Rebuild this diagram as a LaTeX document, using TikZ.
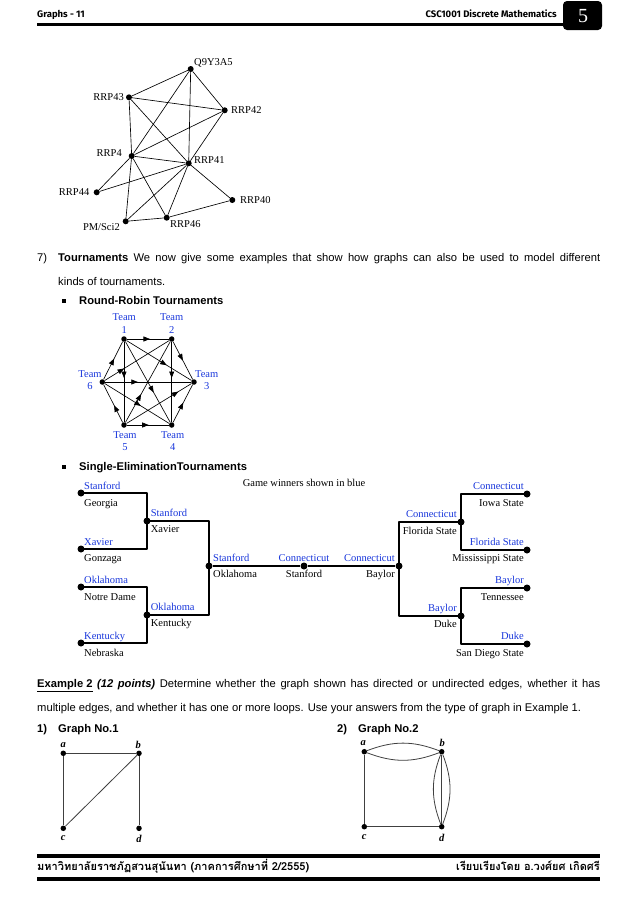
\documentclass[tikz,border=0pt]{standalone}
\usepackage{fontspec}
\setmainfont{Liberation Sans}
\newfontfamily\tms{Liberation Serif}
\newfontfamily\hdr{Fira Sans}
\newfontfamily\thai[Script=Thai]{Loma}
\usetikzlibrary{arrows.meta,decorations.markings}
\definecolor{wblue}{RGB}{25,55,220}
\newcommand{\sqbul}{\raisebox{1.5pt}{\rule{4pt}{4pt}}}
\begin{document}
\begin{tikzpicture}[x=1pt,y=-1pt,
  dot/.style={circle,fill=black,inner sep=0pt,minimum size=6pt},
  sdot/.style={circle,fill=black,inner sep=0pt,minimum size=7pt},
  tdot/.style={circle,fill=black,inner sep=0pt,minimum size=5.5pt},
  gdot/.style={circle,fill=black,inner sep=0pt,minimum size=5.5pt},
  lbl/.style={font=\tms\fontsize{10.5}{12}\selectfont,inner sep=0pt},
  team/.style={font=\tms\fontsize{10.5}{12.5}\selectfont,text=wblue,align=center,inner sep=0pt},
  win/.style={font=\tms\fontsize{10.5}{12}\selectfont,text=wblue,inner sep=0pt},
  los/.style={font=\tms\fontsize{10.5}{12}\selectfont,text=black,inner sep=0pt},
  vlab/.style={font=\tms\bfseries\itshape\fontsize{10.5}{12}\selectfont,inner sep=0pt},
  body/.style={font=\fontsize{11.2}{13}\selectfont,inner sep=0pt,anchor=base west},
  edge/.style={line width=0.65pt},
  br/.style={line width=2pt,line join=round},
  gedge/.style={line width=0.8pt,black!75},
  arr/.style={edge,postaction={decorate},decoration={markings,mark=at position #1 with {\arrow{Triangle[length=6.5pt,width=5pt]}}}}
]
\useasboundingbox (0,0) rectangle (638,903);
\fill[white] (0,0) rectangle (638,903);

% ---------- header ----------
\node[font=\hdr\bfseries\fontsize{9.5}{11}\selectfont,anchor=base west,inner sep=0pt] (h1) at (37,17) {Graphs - 11};
\node[font=\hdr\bfseries\fontsize{9.5}{11}\selectfont,anchor=base east,inner sep=0pt] (h2) at (557,17) {CSC1001 Discrete Mathematics};
\fill (37,23) rectangle (564,26);
\fill[rounded corners=4pt] (563,1) rectangle (602,30);
\node[font=\tms\fontsize{20}{20}\selectfont,text=white,inner sep=0pt] (h5) at (583,16) {5};

% ---------- top graph ----------
\node[dot] (q)  at (190.7,69) {};
\node[dot] (r43) at (129,97.3) {};
\node[dot] (r42) at (224.7,110.3) {};
\node[dot] (r4)  at (131.7,156) {};
\node[dot] (r41) at (188.7,163.3) {};
\node[dot] (r44) at (96.7,192.3) {};
\node[dot] (r40) at (232.3,200) {};
\node[dot] (pm)  at (125.7,221.3) {};
\node[dot] (r46) at (166.7,217.7) {};
\node[lbl,anchor=west] (lq)   at (194,63) {Q9Y3A5};
\node[lbl,anchor=east] (l43)  at (124,97) {RRP43};
\node[lbl,anchor=west] (l42)  at (231,110) {RRP42};
\node[lbl,anchor=east] (l4)   at (122,153) {RRP4};
\node[lbl,anchor=west] (l41)  at (194,160) {RRP41};
\node[lbl,anchor=east] (l44)  at (89.5,192) {RRP44};
\node[lbl,anchor=west] (l40)  at (240,200) {RRP40};
\node[lbl,anchor=east] (lpm)  at (120,227) {PM/Sci2};
\node[lbl,anchor=west] (l46)  at (170,224) {RRP46};
\foreach \a/\b in {q/r43,q/r42,q/r41,q/r4,r43/r42,r43/r4,r43/r41,r42/r4,r42/r41,
  r4/r41,r4/r44,r4/pm,r4/r46,r41/r44,r41/r40,r41/r46,r41/pm,r46/pm,r46/r40}
  \draw[edge] (\a) -- (\b);

% ---------- tournaments text ----------
\node[body] (n7) at (37,261) {7)};
\node[body] (p1) at (58,261) {\makebox[542pt][s]{\textbf{Tournaments} We now give some examples that show how graphs can also be used to model different}};
\node[body] (p2) at (58,285) {kinds of tournaments.};
\node[body] (b1) at (62,304) {\sqbul};
\node[body] (rr) at (79,304) {\textbf{Round-Robin Tournaments}};

% ---------- round robin ----------
\node[tdot] (t1) at (124,339) {};
\node[tdot] (t2) at (171.7,339) {};
\node[tdot] (t3) at (194,382) {};
\node[tdot] (t4) at (171.7,425) {};
\node[tdot] (t5) at (124,425) {};
\node[tdot] (t6) at (102.3,382) {};
\node[team] (lt1) at (124.3,323.5) {Team\\1};
\node[team] (lt2) at (171.7,323.5) {Team\\2};
\node[team] (lt3) at (206.7,380) {Team\\3};
\node[team] (lt4) at (172.7,441.3) {Team\\4};
\node[team] (lt5) at (125,441.3) {Team\\5};
\node[team] (lt6) at (90,380) {Team\\6};
\draw[arr=0.55] (t1) -- (t2);
\draw[arr=0.55] (t6) -- (t1);
\draw[arr=0.5] (t2) -- (t3);
\draw[arr=0.45] (t1) -- (t5);
\draw[arr=0.45] (t2) -- (t4);
\draw[arr=0.62] (t1) -- (t3);
\draw[arr=0.63] (t1) -- (t4);
\draw[arr=0.38] (t6) -- (t3);
\draw[arr=0.45] (t5) -- (t6);
\draw[arr=0.52] (t5) -- (t4);
\draw[arr=0.52] (t4) -- (t3);
\draw[arr=0.8] (t5) -- (t3);
\draw[arr=0.56] (t6) -- (t4);
\draw[arr=0.35] (t5) -- (t2);
\draw[arr=0.3] (t6) -- (t2);

% ---------- single elimination ----------
\node[body] (b2) at (62,470) {\sqbul};
\node[body] (se) at (79,470) {\textbf{Single-EliminationTournaments}};
\node[los,anchor=base] (gw) at (304,486) {Game winners shown in blue};

\node[sdot] (L1) at (81,493) {};
\node[sdot] (L2) at (81,549) {};
\node[sdot] (L3) at (81,587) {};
\node[sdot] (L4) at (81,643) {};
\node[sdot] (S1) at (147,521) {};
\node[sdot] (S2) at (147,615) {};
\node[sdot] (SO) at (209,566) {};
\node[sdot] (CC) at (304,566) {};
\node[sdot] (CB) at (399,566) {};
\node[sdot] (F1) at (461,522) {};
\node[sdot] (F2) at (461,616) {};
\node[sdot] (R1) at (527,494) {};
\node[sdot] (R2) at (527,550) {};
\node[sdot] (R3) at (527,588) {};
\node[sdot] (R4) at (527,644) {};

\draw[br] (L1.center) -| (S1.center) |- (L2.center);
\draw[br] (L3.center) -| (S2.center) |- (L4.center);
\draw[br] (S1.center) -| (SO.center) |- (S2.center);
\draw[br] (SO) -- (CC) -- (CB);
\draw[br] (F1.center) -| (CB.center) |- (F2.center);
\draw[br] (R1.center) -| (F1.center) |- (R2.center);
\draw[br] (R3.center) -| (F2.center) |- (R4.center);

% left labels
\node[win,anchor=base west] at (84,489.5) {Stanford};
\node[los,anchor=base west] at (84,506) {Georgia};
\node[win,anchor=base west] at (84,545) {Xavier};
\node[los,anchor=base west] at (84,561.5) {Gonzaga};
\node[win,anchor=base west] at (84,583.5) {Oklahoma};
\node[los,anchor=base west] at (84,600) {Notre Dame};
\node[win,anchor=base west] at (84,639.5) {Kentucky};
\node[los,anchor=base west] at (84,656) {Nebraska};
\node[win,anchor=base west] at (150.7,516) {Stanford};
\node[los,anchor=base west] at (150.7,532) {Xavier};
\node[win,anchor=base west] at (150.7,610) {Oklahoma};
\node[los,anchor=base west] at (150.7,626.5) {Kentucky};
\node[win,anchor=base west] at (213,561.5) {Stanford};
\node[los,anchor=base west] at (213,577.5) {Oklahoma};
\node[win,anchor=base] at (304,561.5) {Connecticut};
\node[los,anchor=base] at (304,577.5) {Stanford};
% right labels
\node[win,anchor=base east] at (395,561.5) {Connecticut};
\node[los,anchor=base east] at (395,577.5) {Baylor};
\node[win,anchor=base east] at (457,517.5) {Connecticut};
\node[los,anchor=base east] at (457,534) {Florida State};
\node[win,anchor=base east] at (457,611) {Baylor};
\node[los,anchor=base east] at (457,627.5) {Duke};
\node[win,anchor=base east] at (524,489.5) {Connecticut};
\node[los,anchor=base east] at (524,506) {Iowa State};
\node[win,anchor=base east] at (524,545) {Florida State};
\node[los,anchor=base east] at (524,561.5) {Mississippi State};
\node[win,anchor=base east] at (524,583.5) {Baylor};
\node[los,anchor=base east] at (524,600) {Tennessee};
\node[win,anchor=base east] at (524,639.5) {Duke};
\node[los,anchor=base east] at (524,656) {San Diego State};

% ---------- example 2 ----------
\node[body] (e1) at (37,687) {\makebox[563pt][s]{\underline{\textbf{Example 2}} \textbf{\textit{(12 points)}} Determine whether the graph shown has directed or undirected edges, whether it has}};
\node[body] (e2) at (37,711) {multiple edges, and whether it has one or more loops. Use your answers from the type of graph in Example 1.};
\node[body] (g1) at (37,732) {\textbf{1)}};
\node[body] (g1b) at (58,732) {\textbf{Graph No.1}};
\node[body] (g2) at (337,732) {\textbf{2)}};
\node[body] (g2b) at (358,732) {\textbf{Graph No.2}};

% graph 1
\node[gdot] (a1) at (63.3,753.3) {};
\node[gdot] (b1n) at (139,753.3) {};
\node[gdot] (c1) at (63.3,828.3) {};
\node[gdot] (d1) at (139,828.3) {};
\node[vlab] at (63.3,745) {a};
\node[vlab] at (138.3,745) {b};
\node[vlab] at (63.3,838.5) {c};
\node[vlab] at (139,838.5) {d};
\draw[gedge] (a1) -- (b1n);
\draw[gedge] (a1) -- (c1);
\draw[gedge] (b1n) -- (c1);
\draw[gedge] (b1n) -- (d1);

% graph 2
\node[gdot] (a2) at (364.3,751.7) {};
\node[gdot] (b2n) at (441.7,751.7) {};
\node[gdot] (c2) at (364.3,826.7) {};
\node[gdot] (d2) at (441.7,826.7) {};
\node[vlab] at (363.3,743.3) {a};
\node[vlab] at (442.3,743.3) {b};
\node[vlab] at (364.3,837.5) {c};
\node[vlab] at (441.7,837.5) {d};
\draw[gedge] (a2) to[bend left=21] (b2n);
\draw[gedge] (a2) to[bend right=21] (b2n);
\draw[gedge] (a2) -- (c2);
\draw[gedge] (c2) -- (d2);
\draw[gedge] (b2n) -- (d2);
\draw[gedge] (b2n) to[bend left=21] (d2);
\draw[gedge] (b2n) to[bend right=21] (d2);

% ---------- footer ----------
\fill (37,854) rectangle (600,858);
\node[font=\thai\bfseries\fontsize{11}{13}\selectfont,anchor=base west,inner sep=0pt] (f1) at (37,870) {มหาวิทยาลัยราชภัฏสวนสุนันทา (ภาคการศึกษาที่ 2/2555)};
\node[font=\thai\bfseries\fontsize{11}{13}\selectfont,anchor=base east,inner sep=0pt] (f2) at (600,870) {เรียบเรียงโดย อ.วงศ์ยศ เกิดศรี};
\fill (37,877) rectangle (600,881);
\end{tikzpicture}
\end{document}
